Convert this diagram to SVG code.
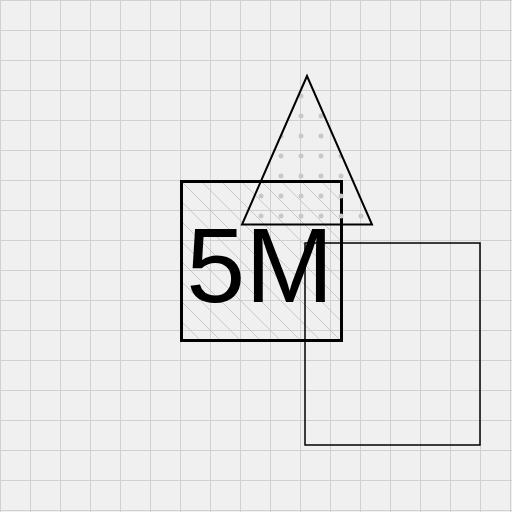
<svg xmlns="http://www.w3.org/2000/svg" width="512" height="512" viewBox="0 0 512 512">
  <defs>
    <pattern id="grid" patternUnits="userSpaceOnUse" x="0" y="0" width="30" height="30">
      <path d="M0.5,0 V30 M0,0.5 H30" fill="none" stroke="#d0d0d0" stroke-width="1"/>
    </pattern>
    <pattern id="hatch" patternUnits="userSpaceOnUse" x="1" y="1" width="20" height="20">
      <path d="M-5,-5 L25,25 M-5,15 L5,25 M15,-5 L25,5" fill="none" stroke="#c8c8c8" stroke-width="1"/>
    </pattern>
    <pattern id="dots" patternUnits="userSpaceOnUse" x="-9" y="6" width="20" height="20">
      <circle cx="10" cy="10" r="2.5" fill="#c8c8c8"/>
    </pattern>
    <style>
      .outline { fill: none; stroke: #000; }
    </style>
  </defs>
  <rect x="0" y="0" width="512" height="512" fill="#f0f0f0"/>
  <rect x="0" y="0" width="512" height="512" fill="url(#grid)"/>

  <g id="square">
    <rect x="181.5" y="181.5" width="160" height="159" fill="url(#hatch)" stroke="#000" stroke-width="3"/>
  </g>
  <g id="triangle">
    <polygon points="307,76 242,224.5 372,224.5" fill="url(#dots)" stroke="#000" stroke-width="2"/>
  </g>
  <g id="rect2">
    <rect class="outline" x="305" y="243" width="175" height="202" stroke-width="1.5"/>
  </g>
  <g id="label">
    <text x="260" y="302" font-family="'Liberation Sans', Arial, sans-serif" font-size="106" text-anchor="middle" fill="#000">5M</text>
  </g>
</svg>
